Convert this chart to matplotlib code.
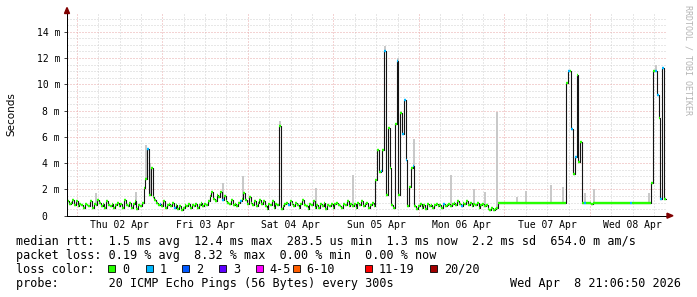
import numpy as np
import matplotlib.pyplot as plt
from matplotlib.patches import Polygon, Rectangle

# canvas size in pixels (saved at dpi=100)
W, H = 697, 297

# time axis is in hours since Thu 02 Apr 00:00, one median sample per 30 min
start_hour = -2.75
step_hours = 0.5

day_labels = ["Thu 02 Apr", "Fri 03 Apr", "Sat 04 Apr", "Sun 05 Apr",
              "Mon 06 Apr", "Tue 07 Apr", "Wed 08 Apr"]
y_ticks_ms = [0, 2, 4, 6, 8, 10, 12, 14]
y_tick_labels = ["0  ", "2 m", "4 m", "6 m", "8 m", "10 m", "12 m", "14 m"]

# median rtt in ms
median_ms = [
    1.1, 0.9, 1.0, 1.2, 0.8, 1.1, 0.7, 0.9, 0.8, 0.6,
    0.9, 0.8, 0.7, 1.1, 0.6, 0.9, 0.8, 1.2, 1.0, 0.7,
    0.9, 0.6, 1.1, 0.8, 0.7, 0.9, 0.6, 0.8, 1.0, 0.7,
    0.9, 0.6, 1.2, 0.8, 0.7, 1.0, 0.6, 0.9, 1.1, 0.5,
    0.8, 0.7, 1.0, 2.1, 2.8, 5.1, 1.6, 3.6, 1.4, 1.2,
    1.0, 0.8, 0.9, 0.7, 1.1, 0.6, 0.8, 0.9, 0.7, 1.0,
    0.6, 0.8, 0.5, 0.7, 0.4, 0.6, 0.8, 0.7, 0.9, 0.6,
    0.8, 0.7, 0.9, 0.6, 0.8, 1.0, 0.7, 0.9, 0.8, 1.1,
    1.5, 1.8, 1.3, 1.1, 1.6, 1.4, 1.8, 1.2, 1.5, 1.1,
    1.0, 0.9, 1.2, 0.8, 0.9, 0.7, 1.0, 1.1, 1.3, 1.7,
    1.2, 0.9, 1.4, 1.0, 0.8, 1.1, 0.7, 1.0, 1.2, 0.9,
    1.1, 0.7, 0.5, 0.9, 0.8, 1.1, 0.6, 0.9, 0.8, 6.8,
    0.5, 0.7, 0.9, 1.0, 0.8, 1.1, 0.9, 0.7, 1.0, 0.8,
    0.6, 0.9, 1.2, 0.8, 0.7, 0.5, 0.9, 0.8, 1.1, 0.6,
    0.8, 0.6, 0.9, 0.7, 1.0, 0.5, 0.8, 0.7, 0.9, 0.6,
    0.9, 1.0, 0.8, 0.7, 0.6, 0.9, 0.8, 1.1, 0.7, 0.9,
    0.7, 0.9, 0.6, 1.0, 0.8, 1.1, 0.7, 0.9, 1.0, 0.6,
    0.8, 1.0, 0.7, 2.7, 5.0, 3.3, 3.4, 5.0, 12.5, 1.6,
    6.7, 3.6, 0.8, 0.6, 7.0, 11.8, 1.6, 7.8, 6.2, 8.8,
    4.2, 0.7, 2.2, 3.6, 3.8, 0.7, 0.5, 0.7, 0.9, 0.6,
    0.8, 0.5, 0.9, 0.7, 0.8, 0.6, 0.8, 0.9, 0.7, 0.8,
    0.6, 0.9, 0.7, 0.8, 0.9, 0.7, 0.9, 1.0, 0.8, 1.1,
    0.9, 0.7, 1.0, 0.9, 1.1, 0.8, 1.0, 0.7, 0.9, 0.8,
    1.0, 0.6, 0.8, 0.9, 0.7, 0.8, 0.5, 0.4, 0.6, 0.4,
    0.5, 0.6, 1.0, 1.0, 1.0, 0.95, 1.0, 1.0, 1.0, 0.95,
    1.0, 1.0, 0.95, 1.0, 1.0, 1.0, 0.95, 1.0, 1.0, 1.0,
    1.0, 0.95, 1.0, 1.0, 1.0, 0.95, 1.0, 1.0, 1.0, 1.0,
    0.95, 1.0, 1.0, 1.0, 0.95, 1.0, 1.0, 1.0, 0.95, 1.0,
    10.1, 11.0, 11.0, 6.6, 3.2, 4.5, 10.7, 4.1, 5.6, 1.0,
    0.95, 1.0, 1.0, 0.95, 0.9, 0.95, 1.0, 0.95, 0.95, 1.0,
    0.95, 0.95, 1.0, 0.95, 1.0, 0.95, 1.0, 1.0, 0.95, 1.0,
    1.0, 0.95, 1.0, 1.0, 0.95, 1.0, 1.0, 0.95, 1.0, 1.0,
    1.0, 0.95, 1.0, 1.0, 1.0, 0.95, 1.0, 1.0,
    2.5, 11.0, 11.0, 9.2, 7.4, 1.3, 11.2, 1.3,
]

# samples that lost 1 of 20 pings (drawn in the "1" colour)
loss1_idx = [45, 52, 60, 87, 97, 124, 176, 178, 185, 188, 189, 190, 194,
             211, 221, 281, 283, 285, 290, 316, 330, 331, 333, 334]

# grey smoke spikes: sample index and top of the smoke in ms
smoke_idx = [16, 38, 44, 46, 87, 98, 119, 139, 160, 178, 185, 194, 215,
             228, 234, 241, 252, 257, 271, 278, 290, 295, 326, 330]
smoke_top_ms = [1.7, 1.8, 5.4, 4.0, 2.5, 3.0, 7.2, 2.1, 3.1, 12.9, 12.0, 5.8,
                3.1, 2.0, 1.8, 7.9, 1.45, 1.9, 2.3, 2.2, 1.7, 2.0, 1.7, 11.5]

loss_labels = ["0", "1", "2", "3", "4-5", "6-10", "11-19", "20/20"]
loss_colors = ["#26ff00", "#00b8ff", "#0059ff", "#5e00ff",
               "#ff00ff", "#ff5e00", "#ff0000", "#a10000"]

MONO = "DejaVu Sans Mono"


def px(x, y):
    """pixel position (from top-left) -> figure fraction"""
    return x / W, 1 - y / H


fig = plt.figure(figsize=(W / 100, H / 100), dpi=100)
fig.patch.set_facecolor("white")

# plot area: x 67..667, y 13..215.7 px
ax = fig.add_axes([67 / W, 1 - 215.7 / H, 600 / W, (215.7 - 13) / H])
x_min, x_max = -2.75, 165.6
y_max = 15.42
ax.set_xlim(x_min, x_max)
ax.set_ylim(0, y_max)

# grid: grey every 6h / 0.5 ms, red every day / 2 ms
for h in np.arange(0, x_max, 6):
    col = "#e8a8a8" if h % 24 == 0 else "#d0d0d0"
    ax.axvline(h, color=col, lw=0.72, ls=(0, (1, 2)), zorder=0)
for v in np.arange(0.5, y_max, 0.5):
    col = "#e8a8a8" if v % 2 == 0 else "#d0d0d0"
    ax.axhline(v, color=col, lw=0.72, ls=(0, (1, 2)), zorder=0)

med = np.array(median_ms)
n = len(med)
t_left = start_hour + step_hours * np.arange(n)
t_right = t_left + step_hours

# smoke
sm = np.array(smoke_idx)
ax.vlines(t_left[sm] + step_hours / 2, med[sm], smoke_top_ms,
          color="#c8c8c8", lw=1.4, zorder=2)

# median line: dark steps, coloured by packet loss on top
ax.step(np.append(t_left, t_right[-1]), np.append(med, med[-1]), where="post",
        color="#141414", lw=0.8, zorder=3)
seg_colors = [loss_colors[0]] * n
for i in loss1_idx:
    seg_colors[i] = loss_colors[1]
ax.hlines(med, t_left, t_right, colors=seg_colors, lw=1.7, zorder=4)

# axes look
for s in ["top", "right"]:
    ax.spines[s].set_visible(False)
for s in ["left", "bottom"]:
    ax.spines[s].set_color("black")
    ax.spines[s].set_linewidth(0.72)
    ax.spines[s].set_zorder(5)

ax.set_yticks(y_ticks_ms)
ax.set_yticklabels(y_tick_labels, fontfamily=MONO, fontsize=7)
ax.tick_params(axis="y", length=2.5, width=0.7, color="#404040", pad=2.5)
ax.set_xticks([12 + 24 * k for k in range(len(day_labels))])
ax.set_xticklabels(day_labels, fontfamily=MONO, fontsize=7)
ax.tick_params(axis="x", length=0, pad=3)

# arrows at the axis ends
fig.add_artist(Polygon([px(64.5, 13.5), px(69.5, 13.5), px(67, 7.5)],
                       closed=True, transform=fig.transFigure, color="#800000"))
fig.add_artist(Polygon([px(667, 213.2), px(667, 218.2), px(673, 215.7)],
                       closed=True, transform=fig.transFigure, color="#800000"))

# y label and watermark
fig.text(*px(11, 114), "Seconds", rotation=90, ha="center", va="center",
         fontsize=7.5, fontfamily="DejaVu Sans")
fig.text(*px(688, 5), "RRDTOOL / TOBI OETIKER", rotation=270, ha="center",
         va="top", fontsize=6, fontfamily=MONO, color="#b4b4b4")

# legend block
fig.text(*px(16, 245), "median rtt:  1.5 ms avg  12.4 ms max  283.5 us min  "
         "1.3 ms now  2.2 ms sd  654.0 m am/s",
         fontfamily=MONO, fontsize=8.5, va="baseline")
fig.text(*px(16, 259), "packet loss: 0.19 % avg  8.32 % max  0.00 % min  0.00 % now",
         fontfamily=MONO, fontsize=8.5, va="baseline")
fig.text(*px(16, 273), "loss color:", fontfamily=MONO, fontsize=8.5, va="baseline")
square_x = [108, 145.7, 182.3, 219, 255.7, 292.7, 365, 430]
for sx, lab, col in zip(square_x, loss_labels, loss_colors):
    fig.add_artist(Rectangle(px(sx, 272), 7 / W, 7 / H, transform=fig.transFigure,
                             facecolor=col, edgecolor="black", lw=0.6))
    fig.text(*px(sx + 14, 273), lab, fontfamily=MONO, fontsize=8.5, va="baseline")
fig.text(*px(16, 287), "probe:       20 ICMP Echo Pings (56 Bytes) every 300s",
         fontfamily=MONO, fontsize=8.5, va="baseline")
fig.text(*px(681, 287), "Wed Apr  8 21:06:50 2026", ha="right",
         fontfamily=MONO, fontsize=8.5, va="baseline")

fig.savefig("out.png", dpi=100, facecolor="white")
